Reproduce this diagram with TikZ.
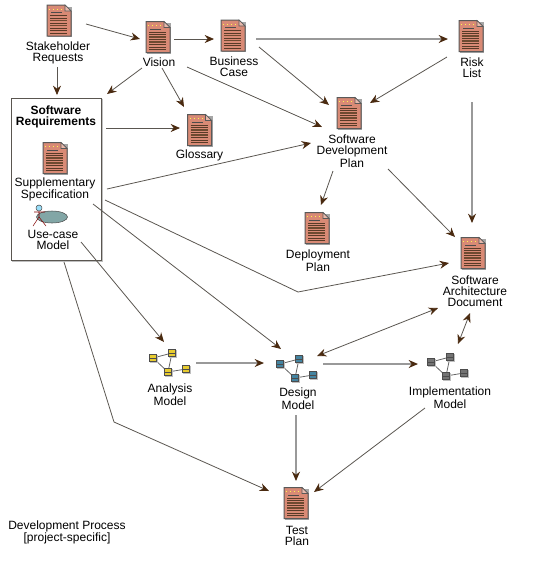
\documentclass[tikz,border=0pt]{standalone}
\usepackage{fontspec}
\setmainfont{Liberation Sans}
\usetikzlibrary{arrows.meta,shapes.geometric}
\definecolor{tipbrown}{HTML}{4A2A10}
\definecolor{linegray}{HTML}{5A5650}
\definecolor{docred}{HTML}{D98A75}
\definecolor{docline}{HTML}{6E4A30}
\def\px{0.75pt}

\tikzset{
  docicon/.pic={
    \fill[black!35] (-11,-14) -- (13,-14) -- (13,16.5) -- (-11,16.5) -- cycle;
    \draw[fill=docred,draw=black!65,line width=0.75pt] (-12,-15.5) -- (6,-15.5) -- (12,-9.5) -- (12,15.5) -- (-12,15.5) -- cycle;
    \draw[fill=docred!60,draw=black!65,line width=0.4pt] (6,-15.5) -- (6,-9.5) -- (12,-9.5) -- cycle;
    \draw[yellow!70,line width=0.7pt,dash pattern=on 1pt off 2pt] (-10,-11.5) -- (5,-11.5);
    \draw[black!70,line width=0.5pt] (-8,-8) -- (3,-8);
    \foreach \y in {-5,-2.5,...,12.5}
      \draw[docline!80!black,line width=0.55pt] (-9,\y) -- (8,\y);
    \foreach \y in {0,5}
      \draw[docline,line width=1.2pt] (-9,\y) -- (8,\y);
  },
  modelicon/.pic={
    \draw[black!60,line width=0.6pt] (-16,-5) -- (3,-10) -- (-1,9) -- cycle;
    \draw[black!60,line width=0.6pt] (-1,9) -- (17,6);
    \foreach \x/\y in {-16/-5,3/-10,-1/9,17/6} {
      \fill[black!25] (\x-3,\y-3) rectangle (\x+5,\y+5);
      \draw[fill=#1,draw=black!70,line width=0.5pt] (\x-3.5,\y-3.5) rectangle (\x+3.5,\y+3.5);
      \draw[black!70,line width=0.5pt] (\x-3.5,\y) -- (\x+3.5,\y);
    }
  }
}

\begin{document}
\begin{tikzpicture}[x=\px,y=-\px]
  \tikzstyle{flow}=[draw=linegray,line width=0.6pt,-{Stealth[length=7pt,width=6pt,color=tipbrown]}]
  \tikzstyle{flat}=[flow,draw=black!40,line width=1pt]
  \tikzstyle{both}=[flow,{Stealth[length=7pt,width=6pt,color=tipbrown]}-{Stealth[length=7pt,width=6pt,color=tipbrown]}]
  \tikzstyle{doc}=[minimum width=24*\px,minimum height=31*\px,inner sep=0pt]
  \tikzstyle{model}=[minimum width=40*\px,minimum height=26*\px,inner sep=0pt]
  \tikzstyle{annot}=[inner sep=0pt,yshift=-0.75pt,align=center,font=\fontsize{9}{8.25}\selectfont]
  \useasboundingbox (0,0) rectangle (536,569);

  % Draw the box round the requirements
  \node[draw=linegray,line width=0.6pt,minimum width=90*\px,minimum height=162*\px,inner sep=0pt] (softreq) at (56,179) {};
  \draw[black!25,line width=0.6pt] ([shift={(1,1)}]softreq.north east) -- ([shift={(1,1)}]softreq.south east) -- ([shift={(1,1)}]softreq.south west);

  % Draw the document icons
  \foreach \name/\x/\y in {stakeholder/59/20.5,vision/158/37,businesscase/233/35.5,glossary/199.5/130,
      supplementary/55/158,risklist/471/36,devplan/349/113,deployplan/317/228,archdoc/473/253,testplan/296/503} {
    \node[doc] (\name) at (\x,\y) {};
    \pic at (\name) {docicon};
  }

  % Draw the model icons
  \foreach \name/\x/\y/\col in {analysis/169/363/yellow!60!brown,design/296/369/cyan!60!black,implementation/447/367/black!55} {
    \node[model] (\name) at (\x,\y) {};
    \pic at (\name) {modelicon=\col};
  }

  % Draw the use-case icon
  \node[draw=black!70,fill=teal!40!gray!70,ellipse,minimum width=31*\px,minimum height=12*\px,inner sep=0pt] (usecase) at (52,217) {};
  \node[circle,draw=black!70,fill=cyan!40,minimum size=6*\px,inner sep=0pt] (actor) at (39,208) {};
  \draw[red!50!black,line width=0.4pt] (actor) -- (39,217) (34,212) -- (45,212) (39,217) -- (33,226) (39,217) -- (46,226);

  % Annotate the artifacts
  \node[annot] (stakeholder-l) at (58,51.5) {Stakeholder\\Requests};
  \node[annot] (vision-l) at (159,61) {Vision};
  \node[annot] (businesscase-l) at (234,65.5) {Business\\Case};
  \node[annot] (glossary-l) at (199.5,154) {Glossary};
  \node[annot,font=\fontsize{9}{8.25}\selectfont\bfseries] (softreq-l) at (56,115.5) {Software\\Requirements};
  \node[annot] (supplementary-l) at (55,188.5) {Supplementary\\Specification};
  \node[annot] (usecase-l) at (53,238.5) {Use-case\\Model};
  \node[annot] (risklist-l) at (472,67) {Risk\\List};
  \node[annot] (devplan-l) at (352,150) {Software\\Development\\Plan};
  \node[annot] (deployplan-l) at (318,259.5) {Deployment\\Plan};
  \node[annot] (archdoc-l) at (475,290) {Software\\Architecture\\Document};
  \node[annot] (analysis-l) at (170,393.5) {Analysis\\Model};
  \node[annot] (design-l) at (298,397.5) {Design\\Model};
  \node[annot] (implementation-l) at (450,396.5) {Implementation\\Model};
  \node[annot] (testplan-l) at (297,535) {Test\\Plan};
  \node[annot] (process-l) at (67,531.5) {Development Process\\{}[project-specific]};

  % Connect the artifacts
  \foreach \source/\sx/\sy/\dest/\dx/\dy in {
      stakeholder/27/3.5/vision/-18/2,
      vision/16/2/businesscase/-19/3.5,
      stakeholder/-2/46.5/softreq/1/-84,
      vision/-16/31/softreq/51/-85,
      vision/4/31/glossary/-15.5/-23,
      softreq/50/-51/glossary/-19.5/-2,
      vision/29/30/devplan/-27/14,
      businesscase/26/11.5/devplan/-20/-8,
      risklist/-24/21/devplan/21/-10,
      supplementary/52/31/devplan/-38/30,
      devplan/-16/58/deployplan/4/-23,
      devplan/39/56/archdoc/-18/-16,
      supplementary/38/46/design/-15/-20,
      usecase/29/25/analysis/-5/-21,
      implementation/-22/41/testplan/18/-11}
    \draw[flow] ([shift={(\sx,\sy)}]\source.center) -- ([shift={(\dx,\dy)}]\dest.center);

  % The lighter straight ones
  \foreach \source/\sx/\sy/\dest/\dx/\dy in {
      businesscase/23/3.5/risklist/-23/3,
      risklist/1/66/archdoc/-1/-30,
      analysis/27/0/design/-32/-6,
      design/27/-5/implementation/-29/-3,
      design/0/46/testplan/0/-22}
    \draw[flat] ([shift={(\sx,\sy)}]\source.center) -- ([shift={(\dx,\dy)}]\dest.center);

  % The two with a bend
  \coordinate (bend-a) at (298,292);
  \coordinate (bend-b) at (114,422);
  \draw[flow] ([shift={(50,42)}]supplementary.center) -- (bend-a) -- ([shift={(-24,10)}]archdoc.center);
  \draw[flow] ([shift={(8,83)}]softreq.center) -- (bend-b) -- ([shift={(-27,-12)}]testplan.center);

  % Two way connectors
  \draw[both] ([shift={(-35,55)}]archdoc.center) -- ([shift={(21,-13)}]design.center);
  \draw[both] ([shift={(-3,60)}]archdoc.center) -- ([shift={(11,-23)}]implementation.center);
\end{tikzpicture}
\end{document}
